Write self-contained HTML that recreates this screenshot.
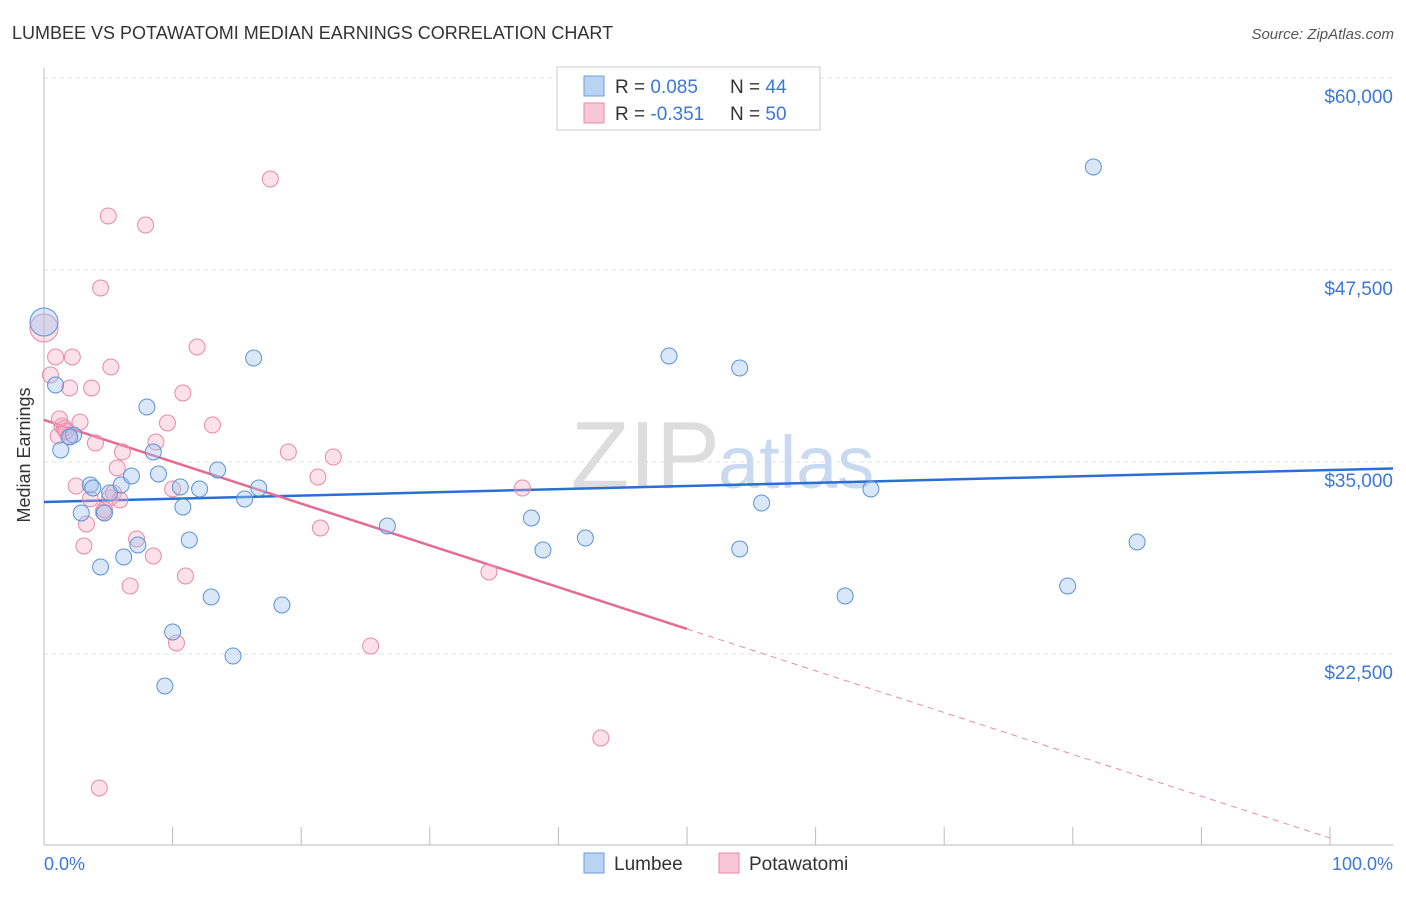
<!DOCTYPE html>
<html><head><meta charset="utf-8"><style>
body{margin:0;background:#fff;font-family:"Liberation Sans",sans-serif;}
svg text{font-family:"Liberation Sans",sans-serif;}
</style></head><body>
<svg id="chart" width="1406" height="892" xmlns="http://www.w3.org/2000/svg">
<text x="12" y="39" font-size="18" fill="#333">LUMBEE VS POTAWATOMI MEDIAN EARNINGS CORRELATION CHART</text>
<text x="1394" y="39" font-size="15" fill="#555" text-anchor="end" font-style="italic">Source: ZipAtlas.com</text>
<g id="grid"></g>
<text x="720" y="488" font-size="96" fill="#ddd" text-anchor="end" font-family="Liberation Serif">ZIP</text>
<text x="718" y="488" font-size="74" fill="#c9daf0">atlas</text>
<g id="axes"></g>
<g id="lines"></g>
<g id="pts"></g>
<text x="30" y="455" font-size="18" fill="#333" text-anchor="middle" transform="rotate(-90 30 455)">Median Earnings</text>
<text x="44" y="870" font-size="18" fill="#3b78d8">0.0%</text>
<text x="1393" y="870" font-size="18" fill="#3b78d8" text-anchor="end">100.0%</text>
<g>
<rect x="557" y="67" width="263" height="63" fill="#fff" stroke="#ccc"/>
<rect x="584" y="76" width="20" height="20" fill="#b9d3f5" stroke="#6a9fdc"/>
<rect x="584" y="103" width="20" height="20" fill="#f8c6d6" stroke="#e88aa8"/>
<text x="615" y="93" font-size="19" fill="#333">R = <tspan fill="#3b78d8">0.085</tspan></text>
<text x="730" y="93" font-size="19" fill="#333">N = <tspan fill="#3b78d8">44</tspan></text>
<text x="615" y="120" font-size="19" fill="#333">R = <tspan fill="#3b78d8">-0.351</tspan></text>
<text x="730" y="120" font-size="19" fill="#333">N = <tspan fill="#3b78d8">50</tspan></text>
</g>
<g>
<rect x="584" y="853" width="20" height="20" fill="#b9d3f5" stroke="#6a9fdc"/>
<text x="614" y="870" font-size="19" fill="#333">Lumbee</text>
<rect x="719" y="853" width="20" height="20" fill="#f8c6d6" stroke="#e88aa8"/>
<text x="749" y="870" font-size="19" fill="#333">Potawatomi</text>
</g>
</svg>
<script>
const yTicks=[22500,35000,47500,60000];
const yTickLabels=["$22,500","$35,000","$47,500","$60,000"];
const lumbeeX=[0,0.9,1.3,2.3,2.0,2.9,3.6,3.8,4.4,4.7,5.1,6.0,6.2,6.8,7.3,8.0,8.5,8.9,9.4,10.0,10.6,10.8,11.3,12.1,13.0,13.5,14.7,15.6,16.3,16.7,18.5,26.7,37.9,38.8,42.1,48.6,54.1,54.1,55.8,62.3,64.3,79.6,81.6,85.0];
const lumbeeY=[44116,40014,35783,36759,36629,31681,33504,33309,28166,31681,32983,33504,28817,34090,29598,38582,35653,34220,20419,23935,33374,32072,29924,33244,26213,34481,22372,32593,41772,33309,25692,30835,31356,29273,30054,41902,41121,29338,32332,26278,33244,26929,54206,29794];
const potaX=[0,0.5,0.9,1.1,1.4,1.6,1.9,2.2,2.0,2.5,2.8,3.1,3.3,3.7,4.0,4.3,4.4,4.6,5.0,5.1,5.2,5.4,5.7,5.9,6.1,6.7,7.2,7.9,8.5,8.7,9.6,10.0,10.3,10.8,11.0,11.9,13.1,17.6,19.0,21.3,21.5,22.5,25.4,34.6,37.2,43.3,1.7,3.6,1.2,4.7];
const potaY=[43725,40665,41837,36694,37345,37215,36694,41837,39819,33439,37606,29533,30965,39819,36238,13779,46329,31747,51016,32658,41186,32983,34611,32528,35653,26929,29989,50430,28882,36304,37540,33244,23218,39493,27580,42488,37410,53425,35653,34025,30705,35327,23023,27841,33309,17034,37000,32600,37800,31900];
const lumbeeTrend=[32400,34480];   // value at 0% and 100%
const potaTrend=[37736,10524];
const NS="http://www.w3.org/2000/svg";
const X=v=>44+v*12.86;
const Y=v=>78+(60000-v)/65.1;
function mk(tag,attrs,parent){const e=document.createElementNS(NS,tag);for(const k in attrs)e.setAttribute(k,attrs[k]);parent.appendChild(e);return e;}
const grid=document.getElementById('grid'),axes=document.getElementById('axes');
yTicks.forEach((t,i)=>{
 const l=mk('line',{x1:44,x2:1393,y1:Y(t),y2:Y(t),stroke:'#e2e2e2','stroke-dasharray':'4,4'},grid);
 
 
 const tx=mk('text',{x:1393,y:Y(t)+25,'font-size':19,fill:'#3b78d8','text-anchor':'end'},axes);
 tx.textContent=yTickLabels[i];
 
 
});
mk('line',{x1:44,x2:44,y1:68,y2:845,stroke:'#bbb'},axes);
mk('line',{x1:44,x2:1393,y1:845,y2:845,stroke:'#bbb'},axes);
for(let i=0;i<=10;i++){
 const t=mk('line',{x1:X(i*10),x2:X(i*10),y1:827,y2:845,stroke:'#bbb'},axes);
 
 
}
const lines=document.getElementById('lines');
const bl=mk('line',{x1:X(0),y1:Y(lumbeeTrend[0]),x2:1393,y2:Y(lumbeeTrend[0]+(lumbeeTrend[1]-lumbeeTrend[0])*(1393-44)/1286),stroke:'#2a6fd6','stroke-width':2.5},lines);


const pAt=p=>potaTrend[0]+(potaTrend[1]-potaTrend[0])*p/100;
const pl=mk('line',{x1:X(0),y1:Y(pAt(0)),x2:X(50),y2:Y(pAt(50)),stroke:'#e56b93','stroke-width':2.5},lines);


const pd=mk('line',{x1:X(50),y1:Y(pAt(50)),x2:X(100),y2:Y(pAt(100)),stroke:'#e88aa8','stroke-width':1,'stroke-dasharray':'6,5'},lines);


const pts=document.getElementById('pts');
potaX.forEach((x,i)=>{
 const c=mk('circle',{cx:X(x),cy:Y(potaY[i]),r:i===0?14:8,fill:'rgba(245,170,195,0.35)',stroke:'#e88aa8','stroke-width':1},pts);
 
 
});
lumbeeX.forEach((x,i)=>{
 const c=mk('circle',{cx:X(x),cy:Y(lumbeeY[i]),r:i===0?14:8,fill:'rgba(160,196,240,0.4)',stroke:'#5b93d8','stroke-width':1},pts);
 
 
});
</script>
</body></html>
